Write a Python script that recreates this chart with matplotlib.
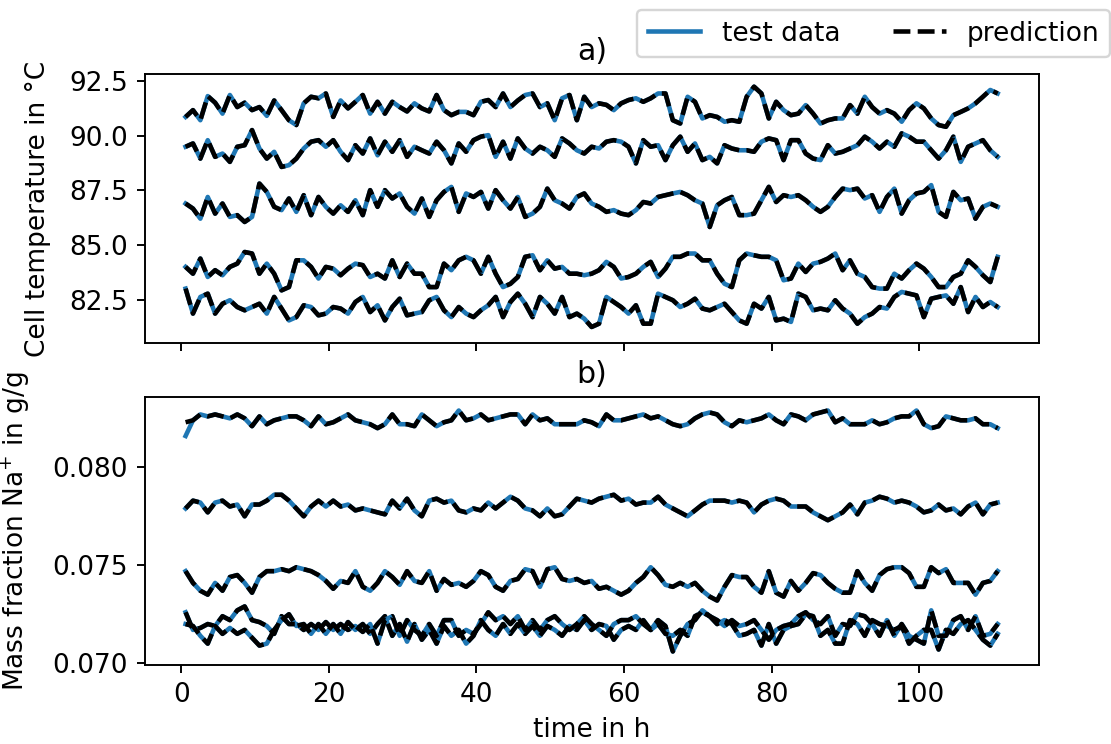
import numpy as np
import matplotlib
matplotlib.use("Agg")
import matplotlib.pyplot as plt
from matplotlib.ticker import FormatStrFormatter
from matplotlib.lines import Line2D

# ---------------- data (1 h sampling from t = 0.6 h) ----------------
t_first = 0.6
t_step = 1.0

temp_1 = [90.85, 91.16, 90.70, 91.80, 91.50, 91.00, 91.85, 91.30, 91.50, 91.16,
          91.30, 90.90, 91.60, 91.16, 90.70, 90.48, 91.47, 91.77, 91.70, 91.92,
          90.85, 91.60, 91.24, 91.54, 91.85, 91.00, 91.54, 91.00, 91.54, 91.30,
          91.10, 91.47, 91.24, 91.10, 91.85, 91.16,
          90.93, 91.08, 91.08, 90.93, 91.54, 91.62, 91.30, 91.92, 91.30, 91.60,
          91.85, 91.92, 91.30, 91.47, 90.70, 91.70, 91.85, 90.70, 91.77, 91.30,
          91.47, 91.40, 91.16, 91.47, 91.62, 91.70, 91.54, 91.70, 91.92, 91.92,
          90.70, 90.55, 91.77, 91.54, 90.78, 90.93, 90.85, 90.63, 90.70, 90.63,
          91.77, 92.23, 91.92, 90.78, 91.54, 91.16, 90.93, 91.00, 91.39, 91.00,
          90.55, 90.70, 90.78, 90.78, 91.39, 91.00, 91.77, 91.30, 91.00, 91.16,
          91.00, 90.63, 91.16, 91.47, 91.24, 90.78, 90.48, 90.40, 90.93, 91.08,
          91.24, 91.47, 91.77, 92.08, 91.92]
temp_2 = [89.49, 89.64, 88.95, 89.79, 89.03, 89.18, 88.80, 89.49, 89.56, 90.25,
          89.41, 88.95, 89.26, 88.57, 88.65, 88.95, 89.41, 89.72, 89.79, 89.49,
          89.79, 89.26, 88.88, 89.56, 89.18, 89.87, 89.10, 89.72, 89.26, 89.79,
          89.03, 89.49, 89.33, 89.18, 89.72, 89.33,
          88.73, 89.64, 89.26, 89.79, 89.95, 90.02, 89.03, 89.72, 88.95, 89.87,
          89.41, 89.18, 89.49, 89.33, 89.03, 89.87, 89.64, 89.33, 89.18, 89.49,
          89.41, 89.72, 89.79, 89.72, 89.49, 88.73, 89.79, 89.49, 89.56, 88.88,
          89.56, 89.95, 89.26, 89.64, 88.88, 89.03, 88.73, 89.56, 89.41, 89.33,
          89.33, 89.26, 89.72, 89.87, 89.79, 88.88, 89.79, 89.79, 89.18, 88.95,
          88.88, 89.56, 89.18, 89.26, 89.41, 89.56, 89.95, 89.72, 89.41, 89.72,
          89.49, 90.10, 89.95, 89.72, 89.72, 89.33, 88.95, 89.33, 89.95, 88.80,
          89.49, 89.64, 89.79, 89.33, 89.03]
temp_3 = [86.90, 86.67, 86.21, 87.20, 86.44, 86.90, 86.29, 86.37, 86.06, 86.29,
          87.81, 87.43, 86.75, 86.60, 87.13, 86.52, 87.28, 86.37, 87.20, 86.75,
          86.44, 86.82, 86.52, 87.05, 86.37, 87.51, 86.75, 87.51, 87.13, 87.36,
          86.75, 86.44, 87.13, 86.29, 87.05, 87.43,
          87.66, 86.52, 87.36, 87.20, 87.43, 86.67, 87.51, 87.05, 86.67, 87.20,
          86.29, 86.44, 86.75, 87.58, 87.05, 86.90, 86.67, 87.20, 87.36, 86.90,
          86.75, 86.52, 86.60, 86.44, 86.37, 86.60, 86.97, 86.90, 87.20, 87.28,
          87.36, 87.43, 87.28, 87.05, 86.90, 85.83, 86.82, 87.05, 87.20, 86.37,
          86.37, 86.44, 87.05, 87.66, 86.97, 87.28, 87.20, 87.28, 87.05, 86.75,
          86.52, 86.75, 87.20, 87.58, 87.51, 87.58, 87.13, 87.28, 86.52, 87.20,
          87.58, 86.44, 87.05, 87.36, 87.43, 87.74, 86.52, 86.29, 87.43, 87.05,
          87.13, 86.21, 86.75, 86.90, 86.75]
temp_4 = [84.01, 83.70, 84.39, 83.55, 83.86, 83.63, 84.01, 84.16, 84.69, 84.62,
          83.70, 84.16, 83.70, 82.94, 83.09, 84.31, 84.31, 84.01, 83.48, 84.01,
          83.93, 83.63, 83.93, 84.16, 84.09, 83.55, 83.70, 83.48, 84.31, 83.55,
          84.16, 83.70, 83.70, 83.09, 83.09, 84.16,
          83.86, 84.31, 84.47, 84.31, 83.70, 84.47, 83.70, 83.09, 83.24, 83.55,
          84.47, 84.54, 83.86, 84.31, 83.93, 84.01, 83.70, 83.70, 83.63, 83.70,
          83.86, 84.24, 84.01, 83.48, 83.55, 83.70, 84.01, 84.24, 83.55, 83.93,
          84.47, 84.47, 84.62, 84.62, 84.31, 84.31, 83.70, 83.24, 83.09, 84.31,
          84.62, 84.54, 84.47, 84.47, 84.31, 83.40, 83.48, 84.16, 83.78, 84.16,
          84.24, 84.39, 84.62, 83.86, 84.31, 83.70, 83.55, 83.09, 83.02, 83.02,
          83.70, 83.48, 83.86, 84.16, 83.93, 83.55, 83.09, 83.09, 83.55, 83.70,
          84.31, 84.01, 83.63, 83.32, 84.47]
temp_5 = [83.02, 81.88, 82.64, 82.79, 81.88, 82.33, 82.49, 82.18, 82.03, 82.18,
          82.33, 81.88, 82.64, 82.11, 81.57, 81.72, 82.26, 82.18, 81.80, 81.88,
          82.18, 82.11, 81.88, 82.41, 82.64, 81.95, 82.26, 81.57, 82.18, 82.56,
          81.80, 81.88, 81.95, 82.49, 82.64, 82.03,
          81.72, 82.18, 81.88, 81.72, 82.03, 82.26, 82.64, 81.72, 82.41, 82.79,
          82.33, 81.72, 82.64, 82.33, 81.88, 82.64, 81.72, 81.88, 81.65, 81.27,
          81.42, 82.64, 82.41, 82.18, 81.88, 82.26, 81.42, 81.42, 82.79, 82.64,
          82.49, 82.18, 82.33, 82.56, 82.11, 82.03, 82.18, 82.33, 81.95, 81.57,
          81.42, 82.33, 82.11, 82.64, 81.57, 81.65, 81.50, 82.79, 82.64, 82.03,
          82.11, 82.03, 82.49, 82.11, 81.88, 81.42, 81.72, 81.88, 82.18, 82.11,
          82.64, 82.87, 82.79, 82.71, 81.72, 82.56, 82.64, 82.71, 82.33, 83.09,
          81.95, 82.64, 82.18, 82.41, 82.18]

na_1 = [0.0816, 0.0824, 0.0827, 0.0826, 0.0827, 0.0826, 0.0825, 0.0827, 0.0825, 0.0821,
        0.0826, 0.0822, 0.0824, 0.0825, 0.0826, 0.0826, 0.0824, 0.0821, 0.0826, 0.0822,
        0.0823, 0.0825, 0.0827, 0.0824, 0.0823, 0.0822, 0.0820, 0.0822, 0.0827, 0.0822,
        0.0822, 0.0821, 0.0827, 0.0824, 0.0821, 0.0823,
        0.0824, 0.0829, 0.0824, 0.0825, 0.0827, 0.0824, 0.0825, 0.0826, 0.0827, 0.0827,
        0.0822, 0.0827, 0.0824, 0.0825, 0.0822, 0.0822, 0.0822, 0.0822, 0.0824, 0.0823,
        0.0821, 0.0827, 0.0824, 0.0824, 0.0825, 0.0826, 0.0827, 0.0825, 0.0826, 0.0824,
        0.0822, 0.0821, 0.0822, 0.0825, 0.0827, 0.0828, 0.0827, 0.0823, 0.0821, 0.0824,
        0.0823, 0.0824, 0.0825, 0.0827, 0.0824, 0.0822, 0.0827, 0.0826, 0.0824, 0.0827,
        0.0828, 0.0829, 0.0823, 0.0825, 0.0822, 0.0822, 0.0822, 0.0824, 0.0822, 0.0823,
        0.0825, 0.0826, 0.0826, 0.0829, 0.0822, 0.0820, 0.0821, 0.0826, 0.0825, 0.0824,
        0.0824, 0.0825, 0.0822, 0.0822, 0.0820]
na_2 = [0.0779, 0.0783, 0.0782, 0.0777, 0.0782, 0.0783, 0.0780, 0.0781, 0.0775, 0.0781,
        0.0781, 0.0783, 0.0786, 0.0786, 0.0783, 0.0779, 0.0775, 0.0780, 0.0783, 0.0780,
        0.0783, 0.0780, 0.0781, 0.0778, 0.0779, 0.0778, 0.0777, 0.0776, 0.0783, 0.0779,
        0.0784, 0.0778, 0.0775, 0.0783, 0.0784, 0.0782,
        0.0783, 0.0778, 0.0777, 0.0779, 0.0778, 0.0782, 0.0779, 0.0782, 0.0785, 0.0783,
        0.0779, 0.0778, 0.0775, 0.0779, 0.0775, 0.0776, 0.0780, 0.0784, 0.0783, 0.0782,
        0.0784, 0.0785, 0.0786, 0.0783, 0.0784, 0.0781, 0.0782, 0.0782, 0.0785, 0.0781,
        0.0779, 0.0777, 0.0775, 0.0778, 0.0781, 0.0783, 0.0783, 0.0783, 0.0782, 0.0783,
        0.0782, 0.0777, 0.0781, 0.0783, 0.0784, 0.0783, 0.0780, 0.0780, 0.0780, 0.0777,
        0.0775, 0.0773, 0.0775, 0.0777, 0.0781, 0.0776, 0.0782, 0.0783, 0.0785, 0.0784,
        0.0782, 0.0783, 0.0782, 0.0780, 0.0777, 0.0778, 0.0781, 0.0778, 0.0779, 0.0776,
        0.0780, 0.0782, 0.0776, 0.0781, 0.0782]
na_3 = [0.0747, 0.0741, 0.0737, 0.0735, 0.0741, 0.0737, 0.0744, 0.0745, 0.0741, 0.0736,
        0.0744, 0.0747, 0.0747, 0.0748, 0.0747, 0.0749, 0.0748, 0.0747, 0.0745, 0.0742,
        0.0738, 0.0742, 0.0741, 0.0747, 0.0739, 0.0737, 0.0741, 0.0747, 0.0744, 0.0740,
        0.0747, 0.0742, 0.0741, 0.0747, 0.0737, 0.0743,
        0.0740, 0.0741, 0.0739, 0.0742, 0.0747, 0.0745, 0.0739, 0.0737, 0.0742, 0.0743,
        0.0748, 0.0747, 0.0739, 0.0748, 0.0749, 0.0743, 0.0742, 0.0743, 0.0741, 0.0742,
        0.0738, 0.0739, 0.0737, 0.0735, 0.0737, 0.0741, 0.0744, 0.0749, 0.0745, 0.0740,
        0.0739, 0.0741, 0.0739, 0.0741, 0.0737, 0.0734, 0.0732, 0.0739, 0.0745, 0.0744,
        0.0744, 0.0739, 0.0736, 0.0747, 0.0736, 0.0734, 0.0742, 0.0737, 0.0741, 0.0746,
        0.0745, 0.0741, 0.0738, 0.0736, 0.0736, 0.0747, 0.0741, 0.0737, 0.0745, 0.0748,
        0.0749, 0.0749, 0.0746, 0.0739, 0.0739, 0.0749, 0.0746, 0.0748, 0.0741, 0.0741,
        0.0741, 0.0735, 0.0741, 0.0742, 0.0747]
na_4 = [0.0726, 0.0717, 0.0718, 0.0720, 0.0719, 0.0724, 0.0722, 0.0727, 0.0729, 0.0722,
        0.0721, 0.0719, 0.0715, 0.0724, 0.0720, 0.0720, 0.0717, 0.0720, 0.0717, 0.0721,
        0.0717, 0.0720, 0.0717, 0.0719, 0.0716, 0.0720, 0.0710, 0.0722, 0.0724, 0.0714,
        0.0722, 0.0717, 0.0714, 0.0720, 0.0714, 0.0722,
        0.0722, 0.0714, 0.0717, 0.0715, 0.0720, 0.0726, 0.0722, 0.0724, 0.0720, 0.0724,
        0.0717, 0.0722, 0.0717, 0.0722, 0.0724, 0.0720, 0.0717, 0.0720, 0.0724, 0.0720,
        0.0717, 0.0714, 0.0720, 0.0722, 0.0722, 0.0724, 0.0720, 0.0717, 0.0720, 0.0715,
        0.0714, 0.0717, 0.0714, 0.0724, 0.0726, 0.0724, 0.0722, 0.0719, 0.0722, 0.0719,
        0.0720, 0.0722, 0.0717, 0.0712, 0.0717, 0.0719, 0.0720, 0.0724, 0.0726, 0.0722,
        0.0720, 0.0724, 0.0714, 0.0720, 0.0719, 0.0725, 0.0724, 0.0720, 0.0714, 0.0722,
        0.0714, 0.0720, 0.0714, 0.0712, 0.0710, 0.0727, 0.0714, 0.0714, 0.0722, 0.0724,
        0.0717, 0.0724, 0.0714, 0.0715, 0.0720]
na_5 = [0.0720, 0.0719, 0.0714, 0.0710, 0.0719, 0.0715, 0.0718, 0.0715, 0.0717, 0.0713,
        0.0709, 0.0710, 0.0717, 0.0722, 0.0725, 0.0719, 0.0720, 0.0715, 0.0720, 0.0715,
        0.0720, 0.0715, 0.0721, 0.0717, 0.0720, 0.0715, 0.0720, 0.0724, 0.0714, 0.0720,
        0.0711, 0.0720, 0.0712, 0.0717, 0.0710, 0.0719,
        0.0714, 0.0717, 0.0710, 0.0714, 0.0722, 0.0717, 0.0714, 0.0720, 0.0715, 0.0720,
        0.0715, 0.0719, 0.0714, 0.0719, 0.0717, 0.0714, 0.0719, 0.0717, 0.0722, 0.0717,
        0.0720, 0.0719, 0.0712, 0.0717, 0.0719, 0.0717, 0.0722, 0.0717, 0.0722, 0.0719,
        0.0706, 0.0714, 0.0720, 0.0722, 0.0727, 0.0724, 0.0720, 0.0722, 0.0720, 0.0714,
        0.0715, 0.0717, 0.0709, 0.0720, 0.0710, 0.0717, 0.0719, 0.0720, 0.0725, 0.0724,
        0.0714, 0.0717, 0.0710, 0.0710, 0.0722, 0.0720, 0.0714, 0.0722, 0.0720, 0.0719,
        0.0717, 0.0719, 0.0710, 0.0714, 0.0717, 0.0717, 0.0707, 0.0717, 0.0715, 0.0720,
        0.0722, 0.0717, 0.0712, 0.0709, 0.0715]

# prediction agrees with the test data within reading precision, except the first Na+ point
pred_na_1_first = 0.0823

temp_series = [temp_1, temp_2, temp_3, temp_4, temp_5]
na_series = [na_1, na_2, na_3, na_4, na_5]

xticks = [0, 20, 40, 60, 80, 100]
temp_ticks = [82.5, 85.0, 87.5, 90.0, 92.5]
na_ticks = [0.070, 0.075, 0.080]

# ---------------- figure ----------------
plt.rcParams["font.size"] = 11
DPI = 173
fig = plt.figure(figsize=(1111 / DPI, 744 / DPI), dpi=DPI)
ax1 = fig.add_axes([0.1305, 0.5390, 0.8047, 0.3616])
ax2 = fig.add_axes([0.1305, 0.1062, 0.8047, 0.3602], sharex=ax1)

blue = "#1f77b4"
lw = 1.9


def times(vals):
    return t_first + t_step * np.arange(len(vals))


for s in temp_series:
    ax1.plot(times(s), s, color=blue, lw=lw)
for s in temp_series:
    ax1.plot(times(s), s, color="black", lw=lw, ls="--")

for s in na_series:
    ax2.plot(times(s), s, color=blue, lw=lw)
for i, s in enumerate(na_series):
    p = list(s)
    if i == 0:
        p[0] = pred_na_1_first
    ax2.plot(times(p), p, color="black", lw=lw, ls="--")

ax1.set_xlim(-4.9, 116.2)
ax1.set_ylim(80.54, 92.81)
ax2.set_ylim(0.06991, 0.08359)

ax1.set_xticks(xticks)
ax1.set_yticks(temp_ticks)
ax1.yaxis.set_major_formatter(FormatStrFormatter("%.1f"))
ax2.set_yticks(na_ticks)
ax2.yaxis.set_major_formatter(FormatStrFormatter("%.3f"))
ax1.tick_params(labelbottom=False)

ax1.set_title("a)", fontsize=12.5)
ax2.set_title("b)", fontsize=12.5)
ax1.set_ylabel("Cell temperature in °C")
ax2.set_ylabel("Mass fraction Na$^{+}$ in g/g")
ax1.yaxis.set_label_coords(-0.105, 0.5)
ax2.yaxis.set_label_coords(-0.126, 0.5)
ax2.set_xlabel("time in h")

handles = [Line2D([], [], color=blue, lw=lw), Line2D([], [], color="black", lw=lw, ls="--")]
fig.legend(handles, ["test data", "prediction"], loc="upper left",
           bbox_to_anchor=(0.5734, 0.9866), ncol=2, borderaxespad=0)

fig.savefig("out.png", dpi=DPI)
